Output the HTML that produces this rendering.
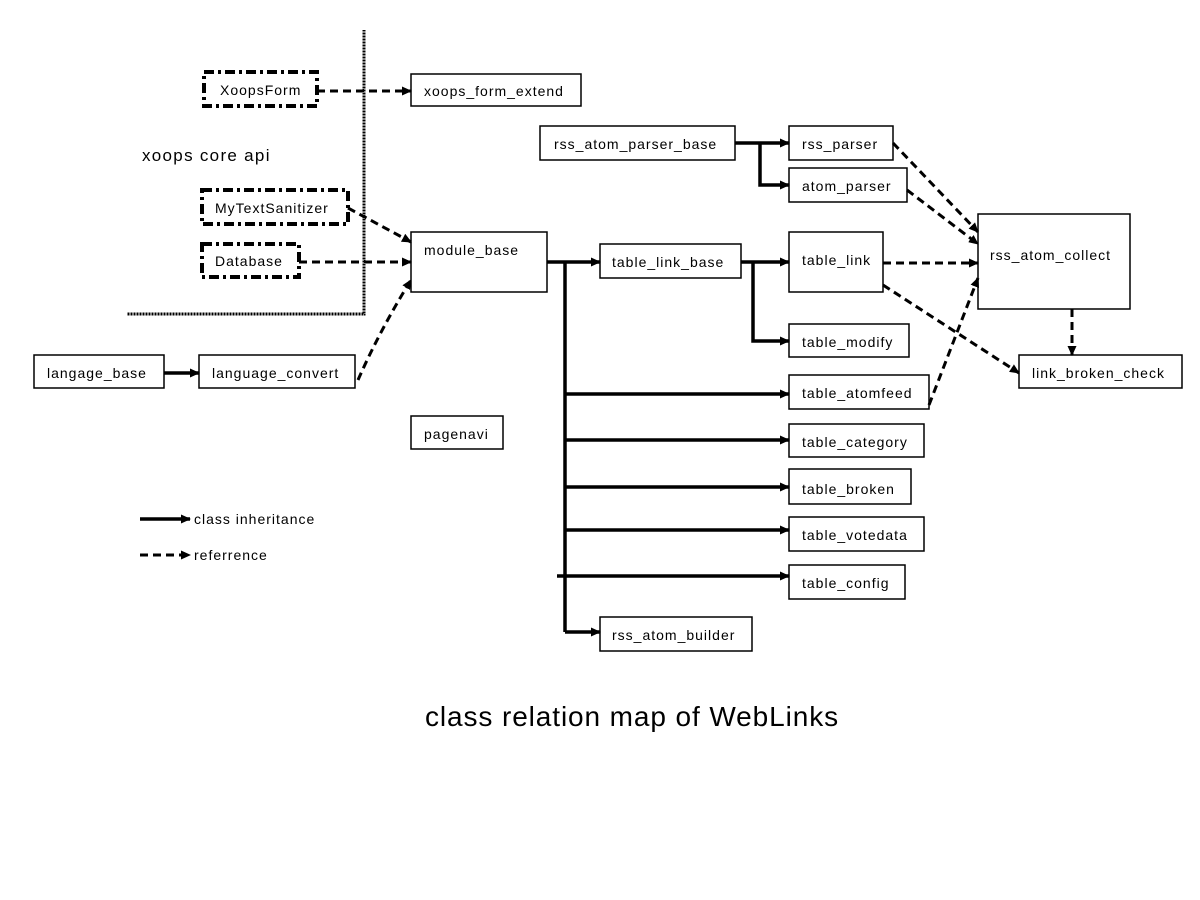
<!DOCTYPE html>
<html><head><style>body{margin:0;background:#fff}svg{display:block}text{font-family:"Liberation Sans",sans-serif;font-size:14px;fill:#000;letter-spacing:1px}</style></head><body>
<svg width="1200" height="900" viewBox="0 0 1200 900">
<defs><marker id="a" markerWidth="10" markerHeight="9" refX="9" refY="4.5" orient="auto" markerUnits="userSpaceOnUse"><path d="M0,0L10,4.5L0,9z" fill="#000"/></marker></defs>
<g fill="#fff" stroke="#000" stroke-width="1.5">
<rect x="411" y="74" width="170" height="32"/>
<rect x="540" y="126" width="195" height="34"/>
<rect x="789" y="126" width="104" height="34"/>
<rect x="789" y="168" width="118" height="34"/>
<rect x="978" y="214" width="152" height="95"/>
<rect x="411" y="232" width="136" height="60"/>
<rect x="600" y="244" width="141" height="34"/>
<rect x="789" y="232" width="94" height="60"/>
<rect x="789" y="324" width="120" height="33"/>
<rect x="1019" y="355" width="163" height="33"/>
<rect x="34" y="355" width="130" height="33"/>
<rect x="199" y="355" width="156" height="33"/>
<rect x="789" y="375" width="140" height="34"/>
<rect x="411" y="416" width="92" height="33"/>
<rect x="789" y="424" width="135" height="33"/>
<rect x="789" y="469" width="122" height="35"/>
<rect x="789" y="517" width="135" height="34"/>
<rect x="789" y="565" width="116" height="34"/>
<rect x="600" y="617" width="152" height="34"/>
</g>
<g fill="none" stroke="#000" stroke-width="4" stroke-dasharray="10,4,3,4">
<rect x="204" y="72" width="113" height="34"/>
<rect x="202" y="190" width="146" height="34"/>
<rect x="202" y="244" width="97" height="33"/>
</g>
<path d="M364 30V314H127" fill="none" stroke="#000" stroke-width="3" stroke-dasharray="1,0.5"/>
<g fill="none" stroke="#000" stroke-width="3.5" marker-end="url(#a)">
<path d="M735 143H789"/><path d="M760 143V185H789"/>
<path d="M547 262H600"/><path d="M741 262H789"/><path d="M753 262V341H789"/>
<path d="M565 394H789"/><path d="M565 440H789"/><path d="M565 487H789"/><path d="M565 530H789"/><path d="M557 576H789"/><path d="M565 632H600"/>
<path d="M164 373H199"/><path d="M140 519H190"/>
</g>
<path d="M565 262V632" stroke="#000" stroke-width="3.5"/>
<g fill="none" stroke="#000" stroke-width="3" stroke-dasharray="8,5" marker-end="url(#a)">
<path d="M317 91H411"/><path d="M348 208L411 242"/><path d="M299 262H411"/><path d="M358 380Q380 330 411 280"/>
<path d="M893 143L978 232"/><path d="M907 190L978 244"/><path d="M883 263H978"/><path d="M883 285L1019 373"/><path d="M929 405L978 278"/><path d="M1072 309V355"/>
<path d="M140 555H190"/>
</g>
<g>
<text x="220" y="95">XoopsForm</text><text x="424" y="96">xoops_form_extend</text>
<text x="554" y="149">rss_atom_parser_base</text><text x="802" y="149">rss_parser</text><text x="802" y="191">atom_parser</text>
<text x="990" y="260">rss_atom_collect</text><text x="142" y="161" style="font-size:17px;letter-spacing:1.3px">xoops core api</text>
<text x="215" y="213">MyTextSanitizer</text><text x="215" y="266">Database</text>
<text x="424" y="255">module_base</text><text x="612" y="267">table_link_base</text><text x="802" y="265">table_link</text>
<text x="802" y="347">table_modify</text><text x="1032" y="378">link_broken_check</text>
<text x="47" y="378">langage_base</text><text x="212" y="378">language_convert</text>
<text x="802" y="398">table_atomfeed</text><text x="424" y="439">pagenavi</text><text x="802" y="447">table_category</text>
<text x="802" y="494">table_broken</text><text x="802" y="540">table_votedata</text><text x="802" y="588">table_config</text>
<text x="612" y="640">rss_atom_builder</text>
<text x="194" y="524">class inheritance</text><text x="194" y="560">referrence</text>
<text x="425" y="726" style="font-size:28px;letter-spacing:0.9px">class relation map of WebLinks</text>
</g>
</svg>
</body></html>
